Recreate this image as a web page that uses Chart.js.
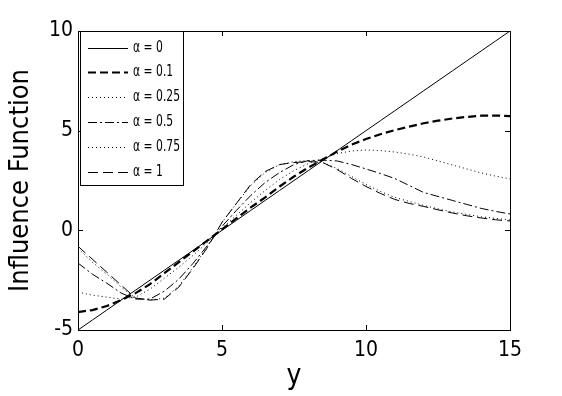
<!DOCTYPE html>
<html><head><meta charset="utf-8">
<script src="https://cdn.jsdelivr.net/npm/chart.js@4/dist/chart.umd.min.js"></script>
<style>html,body{margin:0;padding:0;background:#fff;}</style>
</head><body>
<canvas id="c" width="562" height="396"></canvas>
<script>
// ---- data ----
const xValues = [0,0.5,1,1.5,2,2.5,3,3.5,4,4.5,5,5.5,6,6.5,7,7.5,8,8.5,9,9.5,10,10.5,11,11.5,12,12.5,13,13.5,14,14.5,15];
const alpha0   = [-5,-4.5,-4,-3.5,-3,-2.5,-2,-1.5,-1,-0.5,0,0.5,1,1.5,2,2.5,3,3.5,4,4.5,5,5.5,6,6.5,7,7.5,8,8.5,9,9.5,10];
const alpha01  = [-4.1,-4.0,-3.8,-3.5,-3.15,-2.7,-2.15,-1.6,-1.05,-0.5,0.05,0.6,1.15,1.65,2.2,2.7,3.15,3.55,3.95,4.3,4.58,4.82,5.03,5.2,5.37,5.5,5.61,5.69,5.75,5.76,5.73];
const alpha025 = [-3.1,-3.25,-3.35,-3.45,-3.35,-2.95,-2.4,-1.85,-1.25,-0.6,0.1,0.75,1.4,2.0,2.55,3.0,3.35,3.6,3.85,3.98,4.03,4.0,3.93,3.82,3.68,3.48,3.28,3.08,2.88,2.72,2.58];
const alpha05  = [-1.64,-2.2,-2.65,-3.15,-3.45,-3.45,-3.05,-2.45,-1.65,-0.75,0.2,1.0,1.75,2.4,2.9,3.3,3.5,3.52,3.48,3.3,3.08,2.85,2.6,2.25,1.9,1.7,1.5,1.3,1.1,0.95,0.82];
const alpha075 = [-0.9,-1.6,-2.2,-2.85,-3.4,-3.5,-3.4,-2.8,-1.85,-0.8,0.4,1.35,2.25,2.9,3.3,3.45,3.5,3.4,3.1,2.7,2.3,1.95,1.65,1.45,1.25,1.08,0.92,0.8,0.68,0.6,0.52];
const alpha1   = [-0.8,-1.45,-2.1,-2.75,-3.4,-3.5,-3.45,-2.85,-1.9,-0.85,0.4,1.35,2.3,2.95,3.3,3.4,3.45,3.4,3.05,2.6,2.2,1.85,1.55,1.35,1.2,1.03,0.87,0.73,0.62,0.53,0.47];
const seriesLabels = ['\u03b1 = 0','\u03b1 = 0.1','\u03b1 = 0.25','\u03b1 = 0.5','\u03b1 = 0.75','\u03b1 = 1'];
const xTicks = [0,5,10,15];
const yTicks = [-5,0,5,10];

const FONT = "'Liberation Sans Narrow','DejaVu Sans Condensed','Arial Narrow',sans-serif";
const styles = [
  {w:1, dash:[]},
  {w:2.2, dash:[8,4]},
  {w:1, dash:[1,3]},
  {w:1, dash:[9,3,2,3]},
  {w:1, dash:[1,3]},
  {w:1, dash:[10,5]}
];
const seriesValues = [alpha0, alpha01, alpha025, alpha05, alpha075, alpha1];
const datasets = seriesValues.map((arr,i)=>({
  label: seriesLabels[i],
  data: arr.map((v,j)=>({x:xValues[j], y:v})),
  borderColor:'#000', borderWidth:styles[i].w, borderDash:styles[i].dash,
  pointRadius:0, tension:0, fill:false
}));

const framePlugin = {
  id:'frame',
  afterDatasetsDraw(chart){
    const {ctx, chartArea:a, scales} = chart;
    ctx.save();
    ctx.strokeStyle='#000'; ctx.lineWidth=1; ctx.setLineDash([]);
    ctx.strokeRect(Math.round(a.left)+0.5, Math.round(a.top)+0.5, Math.round(a.right-a.left), Math.round(a.bottom-a.top));
    const L=5;
    ctx.beginPath();
    xTicks.forEach(v=>{
      const px=Math.round(scales.x.getPixelForValue(v))+0.5;
      ctx.moveTo(px,a.bottom); ctx.lineTo(px,a.bottom-L);
      ctx.moveTo(px,a.top); ctx.lineTo(px,a.top+L);
    });
    yTicks.forEach(v=>{
      const py=Math.round(scales.y.getPixelForValue(v))+0.5;
      ctx.moveTo(a.left,py); ctx.lineTo(a.left+L,py);
      ctx.moveTo(a.right,py); ctx.lineTo(a.right-L,py);
    });
    ctx.stroke();
    // legend box
    const bx=80.5, by=31.5, bw=103, bh=154;
    ctx.fillStyle='#fff';
    ctx.fillRect(bx,by,bw,bh);
    ctx.strokeRect(bx,by,bw,bh);
    chart.data.datasets.forEach((ds,i)=>{
      const y=Math.round(47.5+i*24.8)+0.5;
      ctx.beginPath();
      ctx.lineWidth=ds.borderWidth; ctx.setLineDash(ds.borderDash);
      ctx.moveTo(88,y); ctx.lineTo(128,y); ctx.stroke();
      ctx.setLineDash([]);
      ctx.save();
      ctx.translate(133,y);
      ctx.scale(0.8,1);
      ctx.fillStyle='#000';
      ctx.font='15px '+FONT;
      ctx.textBaseline='middle'; ctx.textAlign='left';
      ctx.fillText(ds.label,0,0);
      ctx.restore();
    });
    ctx.restore();
  }
};

new Chart(document.getElementById('c'),{
  type:'line',
  data:{datasets},
  options:{
    responsive:false, animation:false, devicePixelRatio:1,
    layout:{padding:{left:0,right:52,top:31,bottom:0}},
    plugins:{legend:{display:false}, tooltip:{enabled:false}},
    scales:{
      x:{type:'linear', min:0, max:15,
        afterBuildTicks(s){ s.ticks = xTicks.map(v=>({value:v})); },
        afterFit(s){ s.height = 66; },
        grid:{display:false, drawTicks:false}, border:{display:false},
        ticks:{color:'#000', font:{family:FONT,size:21}, padding:8, maxRotation:0, autoSkip:false},
        title:{display:true, text:'y', color:'#000', font:{family:FONT,size:28}, padding:{top:0,bottom:2}}
      },
      y:{type:'linear', min:-5, max:10,
        afterBuildTicks(s){ s.ticks = yTicks.map(v=>({value:v})); },
        afterFit(s){ s.width = 78; },
        grid:{display:false, drawTicks:false}, border:{display:false},
        ticks:{color:'#000', font:{family:FONT,size:21}, padding:5, autoSkip:false},
        title:{display:true, text:'Influence Function', color:'#000', font:{family:FONT,size:27}, padding:{top:5,bottom:0}}
      }
    }
  },
  plugins:[framePlugin]
});
</script>
</body></html>
